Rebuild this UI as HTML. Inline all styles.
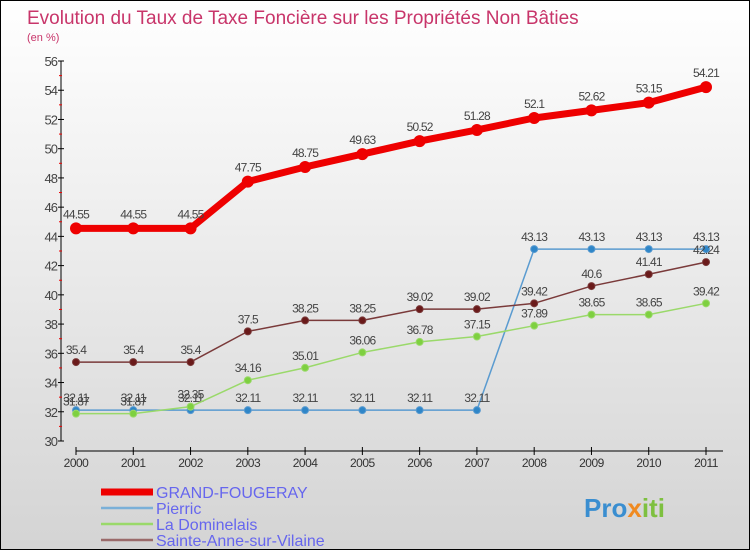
<!DOCTYPE html>
<html><head><meta charset="utf-8"><style>
body{margin:0}
#c{width:750px;height:550px;position:relative;box-sizing:border-box;border:1px solid #000;background:linear-gradient(#fff,#d4d4d4);font-family:"Liberation Sans",sans-serif;overflow:hidden}
</style></head><body>
<div id="c">
<svg id="s" width="750" height="550" style="position:absolute;left:0;top:0"></svg>
</div>
<script>
const years=["2000","2001","2002","2003","2004","2005","2006","2007","2008","2009","2010","2011"];
const grand=[44.55,44.55,44.55,47.75,48.75,49.63,50.52,51.28,52.1,52.62,53.15,54.21];
const pierric=[32.11,32.11,32.11,32.11,32.11,32.11,32.11,32.11,43.13,43.13,43.13,43.13];
const domin=[31.87,31.87,32.35,34.16,35.01,36.06,36.78,37.15,37.89,38.65,38.65,39.42];
const sainte=[35.4,35.4,35.4,37.5,38.25,38.25,39.02,39.02,39.42,40.6,41.41,42.24];
const yTicks=[30,32,34,36,38,40,42,44,46,48,50,52,54,56];
const seriesNames=["GRAND-FOUGERAY","Pierric","La Dominelais","Sainte-Anne-sur-Vilaine"];
const NS="http://www.w3.org/2000/svg";
const s=document.getElementById('s');
const X=i=>75+i*(630/(years.length-1));
const Y=v=>440-(v-30)*(380/26);
function el(t,a,txt){const e=document.createElementNS(NS,t);for(const k in a)e.setAttribute(k,a[k]);if(txt!==undefined)e.textContent=txt;s.appendChild(e);return e;}
let e;
e=el('text',{x:26,y:23,'font-size':19,fill:'#c8356a'},'Evolution du Taux de Taxe Foncière sur les Propriétés Non Bâties');

e=el('text',{x:26,y:40,'font-size':11,fill:'#c8356a'},'(en %)');

e=el('line',{x1:60,y1:60,x2:60,y2:440,stroke:'#000'});

yTicks.forEach((v,i)=>{
 const t=el('line',{x1:57,y1:Y(v),x2:63,y2:Y(v),stroke:'#000'});
 
 if(i<yTicks.length-1){const m=el('line',{x1:58,y1:Y(v+1),x2:61,y2:Y(v+1),stroke:'#e00'});}
 const l=el('text',{x:56,y:Y(v)+5,'font-size':13,fill:'#444','text-anchor':'end','letter-spacing':'-1'},v);
 
});
e=el('line',{x1:75,y1:450,x2:722,y2:450,stroke:'#000'});

years.forEach((y,i)=>{
 const t=el('line',{x1:X(i),y1:446,x2:X(i),y2:454,stroke:'#000'});
 
 const l=el('text',{x:X(i),y:466,'font-size':12,fill:'#333','text-anchor':'middle','letter-spacing':'-0.5'},y);
 
});
function series(d,color,w,r,fill,name,labelDy){
 const pts=d.map((v,i)=>X(i)+','+Y(v)).join(' ');
 const p=el('polyline',{points:pts,fill:'none',stroke:color,'stroke-width':w,'stroke-linejoin':'round'});
 
 d.forEach((v,i)=>{
  const c=el('circle',{cx:X(i),cy:Y(v),r:r,fill:fill,stroke:color,'stroke-width':1});
  
  const t=el('text',{x:X(i),y:Y(v)+labelDy,'font-size':12,fill:'#444','text-anchor':'middle','letter-spacing':'-0.8'},v);
  
 });
}
series(pierric,'#5a9bd0',1.5,3.5,'#2f86c8','pierric',-8);
series(domin,'#9ad96a',1.5,3.5,'#7ed040','la-dominelais',-8);
series(sainte,'#7a3a3a',1.5,3.5,'#6a1a1a','sainte-anne',-8);
series(grand,'#ee0000',7,5.5,'#ee0000','grand-fougeray',-10);
const lc=['#ee0000','#7ab0d8','#9ad96a','#9a6a6a'],lw=[7,2.5,2.5,2.5];
seriesNames.forEach((n,i)=>{
 const y=491+i*16;
 const l=el('line',{x1:100,y1:y,x2:152,y2:y,stroke:lc[i],'stroke-width':lw[i]});
 
 const t=el('text',{x:155,y:y+6,'font-size':16,fill:'#6666ee'},n);
 
});
e=el('text',{x:583,y:516,'font-size':26,'font-weight':'bold',fill:'#3a8ed0'});

e.innerHTML='<tspan>Pro</tspan><tspan fill="#f08a20">x</tspan><tspan fill="#7ec040">iti</tspan>';
</script>
</body></html>
